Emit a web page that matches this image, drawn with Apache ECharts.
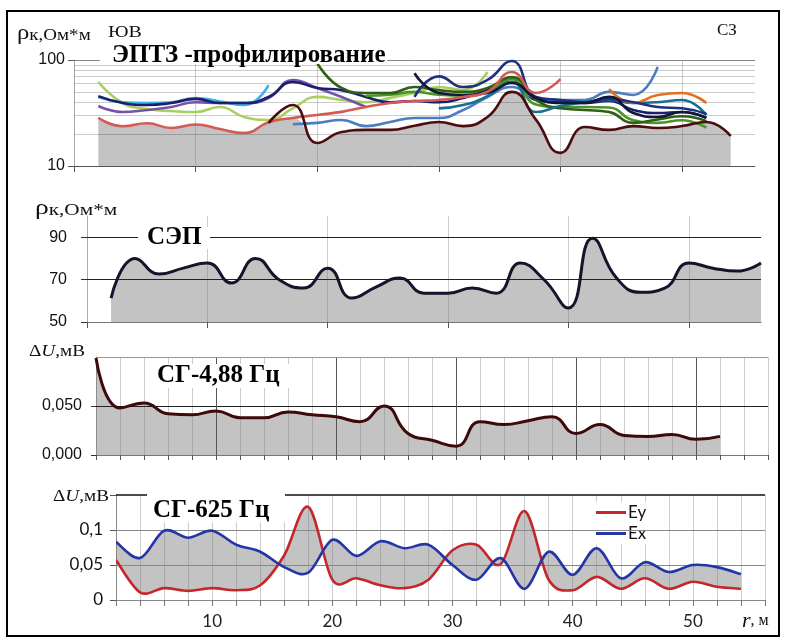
<!DOCTYPE html>
<html>
<head>
<meta charset="utf-8">
<script src="https://cdn.jsdelivr.net/npm/echarts@6/dist/echarts.min.js"></script>
<style>
html,body{margin:0;padding:0;background:#fff}
#chart{width:785px;height:642px}
</style>
</head>
<body>
<div id="chart"></div>
<script>
// ---------- ЭПТЗ-профилирование: кажущееся сопротивление, Ом*м ----------
const eptzR = [2,4,6,8,10,12,14,16,18,20,22,24,26,28,30,32,34,36,38,40,42,44,46,48,50,52,54];
const eptzRed       = [28.5,23.7,25.3,22.8,24.6,22.3,20.5,25.9,28.4,30.3,32.4,36,39.3,41,42,44.8,50,77,48.8,66,null,null,null,null,null,null,null];
const eptzMaroon    = [null,null,null,null,null,null,null,25.5,37.6,16.5,20.9,21.9,21.9,24,26,23.8,29,50,27.2,13.3,23.3,21.9,23.8,22.8,23.8,26,19.2];
const eptzLightGreen= [62,39.3,34.5,33,32.3,36,29,27.2,35,44.9,42,40,43.9,49,55.6,52,77,null,null,null,null,null,null,null,null,null,null];
const eptzCyan      = [44.7,40,39.3,40,43.8,40.6,37.6,58,null,null,null,null,null,null,null,null,null,null,null,null,null,null,null,null,null,null,null];
const eptzNavyA     = [45.6,39.3,37.6,39.3,43,39.3,39.3,44.8,62,54.5,52,44.8,40,41,40,43.8,52,62,42,40,39.3,41,33.8,31.6,32.3,28.4,null];
const eptzPurple    = [36.8,32.3,33.8,36,40,39.3,39.3,43.8,64.8,54.5,44.8,36,null,null,null,null,null,null,null,null,null,null,null,null,null,null,null];
const eptzDarkGreen = [null,null,null,null,null,null,null,null,null,93.5,54.5,48.8,48.8,55.6,52,50,54.5,69,42,35,33.8,32.3,25.5,27.5,29.5,26.5,null];
const eptzGreen     = [null,null,null,null,null,null,null,null,null,null,null,46,47,50,47,46,50,66,38,36,36,35.6,27,25.5,27,23,null];
const eptzBlue      = [null,null,null,null,null,null,null,null,24.8,25.5,27.2,23.8,26,28.4,28.4,33.8,44.8,55.6,43.8,42,42,50,46.8,86,null,null,null];
const eptzOrange    = [null,null,null,null,null,null,null,null,null,null,null,null,null,null,null,null,null,null,null,null,null,53.2,39.3,46.8,48.8,39.3,null];
const eptzTeal      = [null,null,null,null,null,null,null,null,null,null,null,null,null,null,35,37.6,45.6,62,32.3,36.8,40,42,39.3,40,42,30.3,null];
const eptzNavyB     = [null,null,null,null,null,null,null,null,null,null,null,null,null,75,48.8,46.8,48.8,60.7,43.8,39.3,39.3,45,31.6,29,32.3,28.4,null];
const eptzNavyC     = [null,null,null,null,null,null,null,null,null,null,null,null,null,45,70,55.6,64.8,98,44.8,42,40,43,40,36,35,31,null];
const eptzTicks = [10, 100];

// ---------- СЭП ----------
const sepR   = [2,4,6,8,10,12,14,16,18,20,22,24,26,28,30,32,34,36,38,40,42,44,46,48,50,52,54,56];
const sepRho = [61.3,80,72.6,75.4,77.8,68.4,80,69.8,66,75.4,61.3,66.5,70.7,63.6,63.6,66,63.6,77.8,69.8,56.6,89.5,70.7,64,66,77.8,75.4,74,77.8];
const sepTicks = [50, 70, 90];

// ---------- СГ-4,88 Гц ----------
const sg488R  = [0,2,4,6,8,10,12,14,16,18,20,22,24,26,28,30,32,34,36,38,40,42,44,46,48,50,52];
const sg488dU = [0.099,0.048,0.053,0.042,0.041,0.045,0.038,0.038,0.044,0.041,0.039,0.034,0.05,0.022,0.015,0.009,0.034,0.031,0.035,0.039,0.022,0.031,0.02,0.019,0.021,0.016,0.019];
const sg488Ticks = [0, 0.05];

// ---------- СГ-625 Гц ----------
const sg625R = [2,4,6,8,10,12,14,16,18,20,22,24,26,28,30,32,34,36,38,40,42,44,46,48,50,52,54];
const sg625Ey = [0.057,0.011,0.017,0.013,0.017,0.014,0.021,0.064,0.133,0.029,0.031,0.021,0.017,0.029,0.071,0.079,0.051,0.127,0.029,0.014,0.033,0.016,0.031,0.016,0.026,0.019,0.016];
const sg625Ex = [0.083,0.06,0.099,0.089,0.099,0.079,0.069,0.047,0.039,0.086,0.063,0.084,0.074,0.079,0.05,0.029,0.06,0.016,0.069,0.036,0.074,0.031,0.054,0.04,0.05,0.047,0.037];
const sg625Ticks = [0, 0.05, 0.1];
const distTicks = [10, 20, 30, 40, 50];

// ---------- helpers ----------
const pairs = (xs, ys) => xs.map((x, i) => [x, ys[i]]).filter(p => p[1] !== null && p[1] !== undefined);
const FILL = 'rgba(128,128,128,0.47)';
const GRIDC = 'rgba(0,0,0,0.2)';
const SERIF = 'Liberation Serif';
const SANS = 'Liberation Sans';
const CAL = 'Lato';

function hLines(values, color, width) {
  return {
    silent: true, symbol: 'none', label: {show: false}, animation: false,
    lineStyle: {color: color, width: width || 1, type: 'solid'},
    emphasis: {disabled: true},
    data: values.map(v => ({yAxis: v}))
  };
}
function vLines(values, color, width) {
  return {
    silent: true, symbol: 'none', label: {show: false}, animation: false,
    lineStyle: {color: color, width: width || 1, type: 'solid'},
    emphasis: {disabled: true},
    data: values.map(v => ({xAxis: v}))
  };
}
function curve(name, xi, yi, data, color, width) {
  return {
    name: name, type: 'line', xAxisIndex: xi, yAxisIndex: yi, data: data,
    smooth: true, showSymbol: false, symbol: 'none', z: 5,
    lineStyle: {color: color, width: width || 2.5}, itemStyle: {color: color}
  };
}
function fill(name, xi, yi, data, color, z) {
  return {
    name: name, type: 'line', xAxisIndex: xi, yAxisIndex: yi, data: data,
    smooth: true, showSymbol: false, symbol: 'none', z: z || 2,
    lineStyle: {width: 0, opacity: 0},
    areaStyle: {color: color, origin: 'start', opacity: 1}
  };
}

// Catmull-Rom spline through pixel points, as cubic Bezier segments
function splineSegments(pts) {
  const segs = [];
  for (let i = 0; i < pts.length - 1; i++) {
    const p0 = pts[i - 1] || pts[i], p1 = pts[i], p2 = pts[i + 1], p3 = pts[i + 2] || pts[i + 1];
    const c1 = [p1[0] + (p2[0] - p0[0]) / 6, p1[1] + (p2[1] - p0[1]) / 6];
    const c2 = [p2[0] - (p3[0] - p1[0]) / 6, p2[1] - (p3[1] - p1[1]) / 6];
    segs.push([p1, c1, c2, p2]);
  }
  return segs;
}
const f = p => p[0].toFixed(2) + ' ' + p[1].toFixed(2);
function forwardPath(segs) {
  return segs.map(s => 'C ' + f(s[1]) + ' ' + f(s[2]) + ' ' + f(s[3])).join(' ');
}
function backwardPath(segs) {
  return segs.slice().reverse().map(s => 'C ' + f(s[2]) + ' ' + f(s[1]) + ' ' + f(s[0])).join(' ');
}

// shaded band between the Ey and Ex curves: area under Ey and area under Ex are
// traced in opposite directions, so their common part cancels out in the fill
function renderBand(params, api) {
  const ey = sg625R.map((r, i) => api.coord([r, sg625Ey[i]]));
  const ex = sg625R.map((r, i) => api.coord([r, sg625Ex[i]]));
  const y0 = api.coord([sg625R[0], 0])[1];
  const sy = splineSegments(ey), sx = splineSegments(ex);
  const n = ey.length - 1;
  const d =
    'M ' + ey[0][0].toFixed(2) + ' ' + y0.toFixed(2) + ' L ' + f(ey[0]) + ' ' + forwardPath(sy) +
    ' L ' + ey[n][0].toFixed(2) + ' ' + y0.toFixed(2) + ' Z ' +
    'M ' + ex[0][0].toFixed(2) + ' ' + y0.toFixed(2) + ' L ' + ex[n][0].toFixed(2) + ' ' + y0.toFixed(2) +
    ' L ' + f(ex[n]) + ' ' + backwardPath(sx) + ' Z';
  return {type: 'path', shape: {pathData: d}, style: {fill: FILL, stroke: null}};
}
function curveRenderer(values, color) {
  return function (params, api) {
    const pts = sg625R.map((r, i) => api.coord([r, values[i]]));
    const d = 'M ' + f(pts[0]) + ' ' + forwardPath(splineSegments(pts));
    return {type: 'path', shape: {pathData: d}, style: {fill: 'none', stroke: color, lineWidth: 2.6, lineJoin: 'round'}};
  };
}
function customSeries(name, renderItem, color, z) {
  return {
    name: name, type: 'custom', xAxisIndex: 3, yAxisIndex: 3, clip: true, z: z,
    data: [[sg625R[0], 0]], encode: {x: 0, y: 1}, silent: true,
    itemStyle: {color: color}, renderItem: renderItem
  };
}

// gray profile under the ЭПТЗ curves: red branch at the SE end, maroon branch further on
const eptzFill = eptzR.map((r, i) => [r, r <= 18 ? eptzRed[i] : eptzMaroon[i]]);

const eptzCurves = [
  ['ρ1', eptzLightGreen, '#a9cf60'],
  ['ρ2', eptzPurple, '#7453a8'],
  ['ρ3', eptzCyan, '#3cb0e8'],
  ['ρ4', eptzNavyA, '#1b1f6e'],
  ['ρ5', eptzBlue, '#4b7cc4'],
  ['ρ6', eptzGreen, '#4b9428'],
  ['ρ7', eptzDarkGreen, '#2f5f12'],
  ['ρ8', eptzTeal, '#17708e'],
  ['ρ9', eptzOrange, '#e36f1f'],
  ['ρ10', eptzNavyC, '#20307f'],
  ['ρ11', eptzNavyB, '#10183a'],
  ['ρ12', eptzRed, '#d55a55'],
  ['ρ13', eptzMaroon, '#4d0d0d']
];

const EY_COLOR = '#c4262b', EX_COLOR = '#2436a6';

const chart = echarts.init(document.getElementById('chart'), null, {renderer: 'canvas'});

const option = {
  animation: false,
  backgroundColor: '#fff',
  grid: [
    {left: 74, top: 60, width: 681, height: 106},
    {left: 87, top: 216, width: 674, height: 106},
    {left: 96, top: 357, width: 672, height: 98},
    {left: 116, top: 495, width: 649, height: 105}
  ],
  xAxis: [
    {gridIndex: 0, type: 'value', min: 0, max: 56, interval: 2,
     axisLine: {show: true, onZero: false, lineStyle: {color: '#555'}},
     axisTick: {show: true, customValues: [0, 10, 20, 30, 40, 50], length: 6, lineStyle: {color: '#555'}},
     axisLabel: {show: false},
     splitLine: {show: true, lineStyle: {color: GRIDC}}},
    {gridIndex: 1, type: 'value', min: 0, max: 56, interval: 2,
     axisLine: {show: true, onZero: false, lineStyle: {color: '#777'}},
     axisTick: {show: true, customValues: [0, 10, 20, 30, 40, 50], length: 6, lineStyle: {color: '#555'}},
     axisLabel: {show: false},
     splitLine: {show: true, lineStyle: {color: GRIDC}}},
    {gridIndex: 2, type: 'value', min: 0, max: 56, interval: 2,
     axisLine: {show: true, onZero: false, lineStyle: {color: '#777'}},
     axisTick: {show: true, length: 5, lineStyle: {color: '#555'}},
     axisLabel: {show: false},
     splitLine: {show: true, lineStyle: {color: GRIDC}}},
    {gridIndex: 3, type: 'value', min: 2, max: 56, interval: 2,
     axisLine: {show: true, onZero: false, lineStyle: {color: '#888'}},
     axisTick: {show: true, length: 6, lineStyle: {color: '#777'}},
     axisLabel: {show: true, customValues: distTicks, fontFamily: CAL, fontSize: 17, color: '#222', margin: 13},
     splitLine: {show: true, lineStyle: {color: GRIDC}}}
  ],
  yAxis: [
    {gridIndex: 0, type: 'log', logBase: 10, min: 10, max: 100,
     axisLine: {show: true, lineStyle: {color: '#aaa'}},
     axisTick: {show: true, length: 6, lineStyle: {color: '#555'}},
     axisLabel: {show: true, customValues: eptzTicks, fontFamily: SANS, fontSize: 16, color: '#111', margin: 9},
     splitLine: {show: false}},
    {gridIndex: 1, type: 'value', min: 50, max: 100, interval: 20,
     axisLine: {show: true, lineStyle: {color: '#aaa'}},
     axisTick: {show: true, customValues: sepTicks, length: 6, lineStyle: {color: '#333'}},
     axisLabel: {show: true, customValues: sepTicks, fontFamily: SANS, fontSize: 16, color: '#111', margin: 20},
     splitLine: {show: false}},
    {gridIndex: 2, type: 'value', min: 0, max: 0.1, interval: 0.05,
     axisLine: {show: true, lineStyle: {color: '#999'}},
     axisTick: {show: true, customValues: sg488Ticks, length: 5, lineStyle: {color: '#333'}},
     axisLabel: {show: true, customValues: sg488Ticks, fontFamily: SANS, fontSize: 16, color: '#111', margin: 14,
                 formatter: v => Number(v).toFixed(3).replace('.', ',')},
     splitLine: {show: false}},
    {gridIndex: 3, type: 'value', min: 0, max: 0.15, interval: 0.05,
     axisLine: {show: true, lineStyle: {color: '#888'}},
     axisTick: {show: true, customValues: [0, 0.05, 0.1, 0.15], length: 6, lineStyle: {color: '#555'}},
     axisLabel: {show: true, customValues: sg625Ticks, fontFamily: CAL, fontSize: 17, color: '#111', margin: 13,
                 formatter: v => v === 0 ? '0' : String(+Number(v).toFixed(2)).replace('.', ',')},
     splitLine: {show: false}}
  ],
  legend: {
    orient: 'vertical', left: 594, top: 502,
    itemWidth: 30, itemHeight: 3, itemGap: 4,
    backgroundColor: '#fff', padding: [2, 6, 2, 2],
    textStyle: {fontFamily: CAL, fontSize: 17, color: '#111', lineHeight: 17, padding: [0, 0, 0, -3]},
    data: [{name: 'Ey', icon: 'rect', itemStyle: {color: EY_COLOR}}, {name: 'Ex', icon: 'rect', itemStyle: {color: EX_COLOR}}],
    selectedMode: false
  },
  series: [
    // --- ЭПТЗ ---
    Object.assign(fill('fill1', 0, 0, eptzFill, FILL), {markLine: hLines([20, 30, 40, 50, 60, 70, 80, 90], GRIDC)}),
    {type: 'line', name: 'top1', xAxisIndex: 0, yAxisIndex: 0, data: [], markLine: hLines([100], '#888')},
    ...eptzCurves.map(c => curve(c[0], 0, 0, pairs(eptzR, c[1]), c[2], 2.6)),

    // --- СЭП ---
    Object.assign(fill('fill2', 1, 1, pairs(sepR, sepRho), FILL), {markLine: hLines([70, 90], '#222')}),
    curve('СЭП', 1, 1, pairs(sepR, sepRho), '#14142a', 3),

    // --- СГ-4,88 Гц ---
    Object.assign(fill('fill3', 2, 2, pairs(sg488R, sg488dU), FILL), {markLine: hLines([0.05], '#222')}),
    {type: 'line', name: 'grid3', xAxisIndex: 2, yAxisIndex: 2, data: [],
     markLine: vLines([10, 20, 30, 40, 50], '#555')},
    {type: 'line', name: 'top3', xAxisIndex: 2, yAxisIndex: 2, data: [], markLine: hLines([0.1], '#999')},
    curve('СГ-4,88', 2, 2, pairs(sg488R, sg488dU), '#3d0909', 3),

    // --- СГ-625 Гц ---
    customSeries('band', renderBand, '#c3c3c3', 2),
    {type: 'line', name: 'grid4h', xAxisIndex: 3, yAxisIndex: 3, data: [], z: 3,
     markLine: hLines([0.05, 0.1], '#888')},
    {type: 'line', name: 'top4', xAxisIndex: 3, yAxisIndex: 3, data: [], z: 3, markLine: hLines([0.15], '#111', 1.5)},
    customSeries('Ey', curveRenderer(sg625Ey, EY_COLOR), EY_COLOR, 5),
    customSeries('Ex', curveRenderer(sg625Ex, EX_COLOR), EX_COLOR, 5)
  ],
  graphic: [
    // frame
    {type: 'rect', z: 200, shape: {x: 7, y: 11, width: 772, height: 625},
     style: {fill: 'none', stroke: '#000', lineWidth: 2}},

    // panel 1 captions
    {type: 'text', z: 150, x: 17, y: 33, scaleX: 1.12, style: {
      text: '{r|ρ}{s|к,Ом*м}', verticalAlign: 'middle',
      rich: {r: {fontFamily: SERIF, fontSize: 22, fill: '#111', verticalAlign: 'bottom'},
             s: {fontFamily: SERIF, fontSize: 17, fill: '#111', verticalAlign: 'bottom'}}}},
    {type: 'text', z: 150, x: 108, y: 33, scaleX: 1.25, style: {text: 'ЮВ', fontFamily: SERIF, fontSize: 16, fill: '#111', verticalAlign: 'middle'}},
    {type: 'text', z: 150, x: 717, y: 31, style: {text: 'СЗ', fontFamily: SERIF, fontSize: 17, fill: '#111', verticalAlign: 'middle'}},
    {type: 'rect', z: 140, shape: {x: 100, y: 45, width: 287, height: 19}, style: {fill: '#fff'}},
    {type: 'text', z: 150, x: 112, y: 56, style: {text: 'ЭПТЗ -профилирование', fontFamily: SERIF, fontWeight: 'bold', fontSize: 25, fill: '#000', verticalAlign: 'middle'}},

    // panel 2 captions
    {type: 'text', z: 150, x: 35, y: 208, scaleX: 1.25, style: {
      text: '{r|ρ}{s|к,Ом*м}', verticalAlign: 'middle',
      rich: {r: {fontFamily: SERIF, fontSize: 22, fill: '#111', verticalAlign: 'bottom'},
             s: {fontFamily: SERIF, fontSize: 17, fill: '#111', verticalAlign: 'bottom'}}}},
    {type: 'rect', z: 140, shape: {x: 138, y: 227, width: 72, height: 22}, style: {fill: '#fff'}},
    {type: 'text', z: 150, x: 147, y: 238, style: {text: 'СЭП', fontFamily: SERIF, fontWeight: 'bold', fontSize: 25, fill: '#000', verticalAlign: 'middle'}},

    // panel 3 captions
    {type: 'text', z: 150, x: 29, y: 352, scaleX: 1.2, style: {
      text: '{d|Δ}{u|U}{t|,мВ}', verticalAlign: 'middle',
      rich: {d: {fontFamily: SERIF, fontSize: 16, fill: '#111'},
             u: {fontFamily: SERIF, fontSize: 16, fontStyle: 'italic', fill: '#111'},
             t: {fontFamily: SERIF, fontSize: 16, fill: '#111'}}}},
    {type: 'rect', z: 140, shape: {x: 151, y: 364, width: 138, height: 24}, style: {fill: '#fff'}},
    {type: 'text', z: 150, x: 157, y: 376, style: {text: 'СГ-4,88 Гц', fontFamily: SERIF, fontWeight: 'bold', fontSize: 25, fill: '#000', verticalAlign: 'middle'}},

    // panel 4 captions
    {type: 'text', z: 150, x: 53, y: 497, scaleX: 1.2, style: {
      text: '{d|Δ}{u|U}{t|,мВ}', verticalAlign: 'middle',
      rich: {d: {fontFamily: SERIF, fontSize: 16, fill: '#111'},
             u: {fontFamily: SERIF, fontSize: 16, fontStyle: 'italic', fill: '#111'},
             t: {fontFamily: SERIF, fontSize: 16, fill: '#111'}}}},
    {type: 'rect', z: 140, shape: {x: 147, y: 492, width: 138, height: 30}, style: {fill: '#fff'}},
    {type: 'text', z: 150, x: 153, y: 511, style: {text: 'СГ-625 Гц', fontFamily: SERIF, fontWeight: 'bold', fontSize: 25, fill: '#000', verticalAlign: 'middle'}},
    {type: 'text', z: 150, x: 742, y: 621, style: {
      text: '{i|r}{m|, м}', verticalAlign: 'middle',
      rich: {i: {fontFamily: SERIF, fontSize: 22, fontStyle: 'italic', fill: '#111'},
             m: {fontFamily: SERIF, fontSize: 16, fill: '#111'}}}}
  ]
};

chart.setOption(option);
</script>
</body>
</html>
